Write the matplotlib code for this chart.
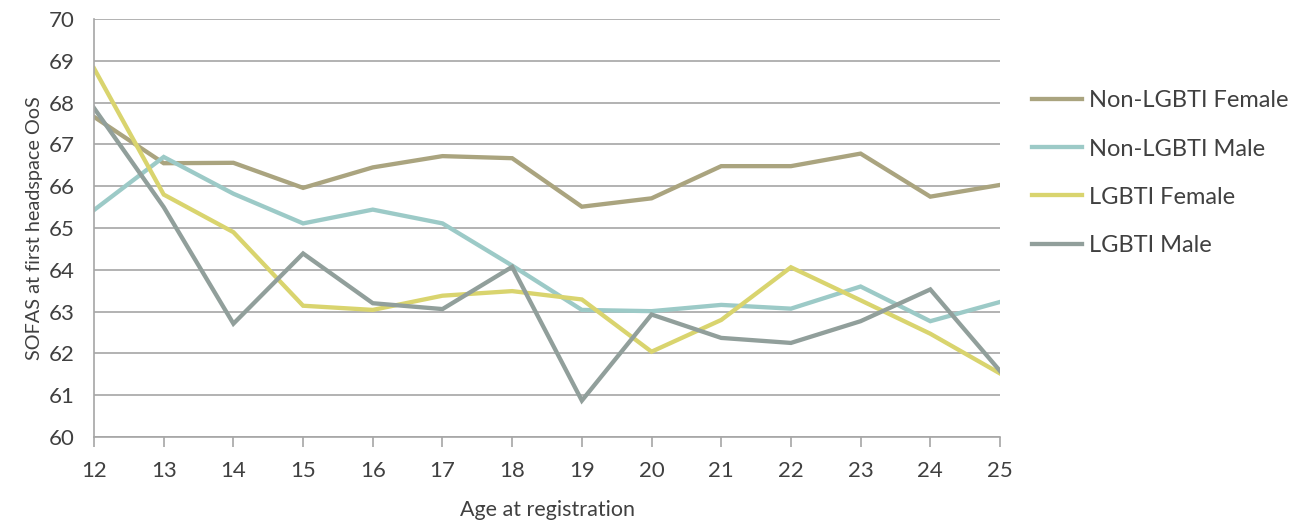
import matplotlib
matplotlib.use("Agg")
import matplotlib.pyplot as plt

# values
ages = [12, 13, 14, 15, 16, 17, 18, 19, 20, 21, 22, 23, 24, 25]
non_lgbti_female = [67.66, 66.55, 66.56, 65.96, 66.45, 66.72, 66.67, 65.51, 65.71, 66.48, 66.48, 66.78, 65.75, 66.03]
non_lgbti_male = [65.43, 66.70, 65.82, 65.11, 65.44, 65.11, 64.10, 63.04, 63.01, 63.16, 63.07, 63.60, 62.77, 63.23]
lgbti_female = [68.82, 65.80, 64.90, 63.14, 63.04, 63.38, 63.49, 63.29, 62.04, 62.80, 64.06, 63.27, 62.47, 61.52]
lgbti_male = [67.87, 65.50, 62.71, 64.39, 63.20, 63.06, 64.07, 60.87, 62.93, 62.37, 62.25, 62.77, 63.53, 61.58]

series = [
    ("Non-LGBTI Female", non_lgbti_female, "#aaa47f"),
    ("Non-LGBTI Male", non_lgbti_male, "#9ccac7"),
    ("LGBTI Female", lgbti_female, "#d9d46e"),
    ("LGBTI Male", lgbti_male, "#919f9b"),
]

plt.rcParams['font.family'] = ['Lato', 'DejaVu Sans']
text_col = "#404040"
grid_col = "#a6a6a6"

fig = plt.figure(figsize=(12.97, 5.29), dpi=100)
ax = fig.add_axes([0.0725, 0.174, 0.6985, 0.79])

for name, vals, col in series:
    ax.plot(ages, vals, color=col, lw=3.1, label=name, solid_joinstyle="miter")

ax.set_xlim(12, 25)
ax.set_ylim(60, 70)
ax.set_yticks(range(60, 71))
ax.set_xticks(ages)
ax.yaxis.grid(True, color=grid_col, lw=1.2)
ax.set_axisbelow(True)

for s in ["top", "right"]:
    ax.spines[s].set_visible(False)
ax.spines["left"].set_color(grid_col)
ax.spines["bottom"].set_color(grid_col)
ax.spines["left"].set_linewidth(1.2)
ax.spines["bottom"].set_linewidth(1.2)

ax.tick_params(axis="y", length=0, pad=14, labelsize=16, labelcolor=text_col)
ax.tick_params(axis="x", length=7, width=1.2, color=grid_col, pad=10, labelsize=16, labelcolor=text_col)

ax.set_ylabel("SOFAS at first headspace OoS", fontsize=14.3, color=text_col, labelpad=4)
ax.set_xlabel("Age at registration", fontsize=15.5, color=text_col, labelpad=14)

leg = ax.legend(loc="upper left", bbox_to_anchor=(1.012, 0.88), frameon=False,
                fontsize=17, labelcolor=text_col, handlelength=2.1, handletextpad=0.3,
                labelspacing=1.15)

fig.savefig("out.png", dpi=100)
